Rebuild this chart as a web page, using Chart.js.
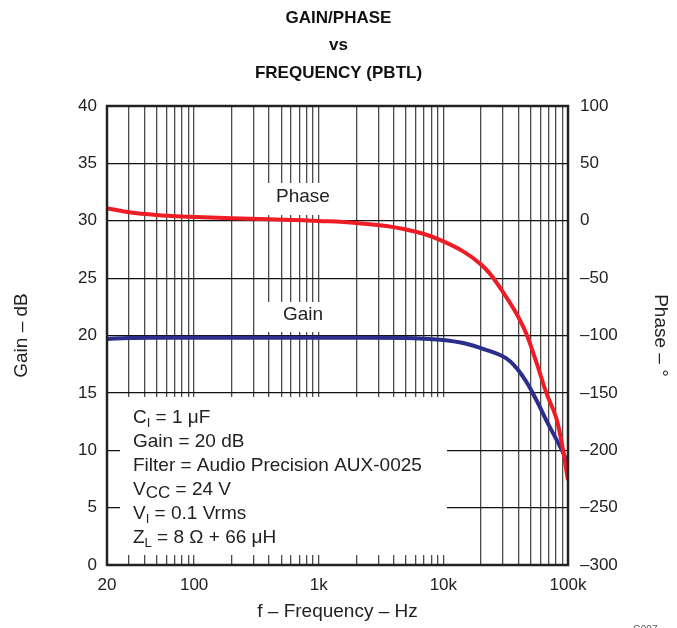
<!DOCTYPE html>
<html>
<head>
<meta charset="utf-8">
<script src="https://cdn.jsdelivr.net/npm/chart.js@4.4.1/dist/chart.umd.min.js"></script>
<style>
  html, body { margin: 0; padding: 0; background: #fff; }
  #wrap { width: 677px; height: 628px; }
</style>
</head>
<body>
<div id="wrap"><canvas id="gainPhase" width="677" height="628"></canvas></div>
<script>
// values
const gainFreq = [20, 30, 50, 100, 200, 500, 1000, 2000, 5000, 7000, 10000, 15000, 20000, 32000, 43600, 55600, 67000, 81000, 97000, 100000];
const gainDb   = [19.7, 19.78, 19.8, 19.8, 19.8, 19.8, 19.8, 19.8, 19.78, 19.72, 19.6, 19.3, 18.9, 18.0, 16.4, 14.4, 12.6, 10.9, 9.15, 8.5];

const phaseFreq = [20, 30, 50, 90, 200, 400, 1000, 2000, 4700, 10000, 20000, 30000, 43600, 55600, 67000, 80000, 88500, 100000];
const phaseDeg  = [10.9, 7.4, 5, 3.5, 2.1, 1.2, -0.2, -2, -7, -18, -38, -62, -92, -123, -150, -171, -192, -226];

const gainTicks = [0, 5, 10, 15, 20, 25, 30, 35, 40];
const phaseTicks = [-300, -250, -200, -150, -100, -50, 0, 50, 100];
const freqGrid = [20, 30, 40, 50, 60, 70, 80, 90,
                  100, 200, 300, 400, 500, 600, 700, 800, 900,
                  1000, 2000, 3000, 4000, 5000, 6000, 7000, 8000, 9000,
                  10000, 20000, 30000, 40000, 50000, 60000, 70000, 80000, 90000, 100000];
const freqLabels = { 20: '20', 100: '100', 1000: '1k', 10000: '10k', 100000: '100k' };

const FONT = '"Liberation Sans", Arial, sans-serif';
const TXT = '#222';

// white boxes behind the in-plot labels, then the labels themselves
const labelsPlugin = {
    id: 'labels',
    beforeDatasetsDraw(chart) {
        const ctx = chart.ctx;
        ctx.save();
        ctx.fillStyle = '#fff';
        ctx.fillRect(262, 183, 74, 32);
        ctx.fillRect(262, 302, 74, 30);
        ctx.fillRect(120, 397, 327, 158);

        ctx.fillStyle = TXT;
        ctx.font = '19px ' + FONT;
        ctx.textAlign = 'center';
        ctx.textBaseline = 'middle';
        ctx.fillText('Phase', 303, 197);
        ctx.fillText('Gain', 303, 315);

        ctx.textAlign = 'left';
        ctx.textBaseline = 'alphabetic';
        const notes = [
            [['C', 0], ['I', 1], [' = 1 μF', 0]],
            [['Gain = 20 dB', 0]],
            [['Filter = Audio Precision AUX-0025', 0]],
            [['V', 0], ['CC', 2], [' = 24 V', 0]],
            [['V', 0], ['I', 1], [' = 0.1 Vrms', 0]],
            [['Z', 0], ['L', 1], [' = 8 Ω + 66 μH', 0]]
        ];
        notes.forEach((parts, i) => {
            let x = 133;
            const y = 423 + i * 24;
            parts.forEach(([t, sub]) => {
                if (sub === 1) { ctx.font = '13px ' + FONT; ctx.fillText(t, x, y + 4); }
                else if (sub === 2) { ctx.font = '17px ' + FONT; ctx.fillText(t, x, y + 3); }
                else { ctx.font = '19px ' + FONT; ctx.fillText(t, x, y); }
                x += ctx.measureText(t).width;
            });
        });
        ctx.restore();
    },
    afterDatasetsDraw(chart) {
        const { ctx, chartArea: a } = chart;
        ctx.save();
        ctx.strokeStyle = '#222';
        ctx.lineWidth = 2.5;
        ctx.strokeRect(a.left, a.top, a.right - a.left, a.bottom - a.top);
        ctx.fillStyle = '#555';
        ctx.font = '10px ' + FONT;
        ctx.fillText('G007', 633, 633);
        ctx.restore();
    }
};

new Chart(document.getElementById('gainPhase'), {
    type: 'line',
    data: {
        datasets: [{
            label: 'Phase',
            data: phaseFreq.map((f, i) => ({ x: f, y: phaseDeg[i] })),
            yAxisID: 'y2',
            borderColor: '#ee1c25',
            borderWidth: 4,
            pointRadius: 0,
            tension: 0.4
        }, {
            label: 'Gain',
            data: gainFreq.map((f, i) => ({ x: f, y: gainDb[i] })),
            yAxisID: 'y',
            borderColor: '#2b2e8a',
            borderWidth: 4,
            pointRadius: 0,
            tension: 0.4
        }]
    },
    options: {
        responsive: false,
        animation: false,
        layout: { padding: 0 },
        plugins: {
            legend: { display: false },
            tooltip: { enabled: false },
            title: {
                display: true,
                text: ['GAIN/PHASE', 'vs', 'FREQUENCY (PBTL)'],
                color: '#111',
                font: { family: FONT, size: 17, weight: 'bold', lineHeight: 1.6 },
                padding: { top: 5, bottom: 19.4 }
            }
        },
        scales: {
            x: {
                type: 'logarithmic',
                min: 20,
                max: 100000,
                afterBuildTicks: (s) => { s.ticks = freqGrid.map(v => ({ value: v })); },
                afterFit: (s) => { s.height = 63; },
                ticks: {
                    autoSkip: false,
                    maxRotation: 0,
                    padding: 10,
                    color: TXT,
                    font: { family: FONT, size: 17 },
                    callback: (v) => freqLabels[v] || ''
                },
                grid: { color: '#4a4a4a', lineWidth: 1.3, drawTicks: false },
                border: { display: false },
                title: {
                    display: true,
                    text: 'f – Frequency – Hz',
                    color: TXT,
                    font: { family: FONT, size: 19 },
                    padding: { top: 0, bottom: 4.6 }
                }
            },
            y: {
                position: 'left',
                min: 0,
                max: 40,
                afterBuildTicks: (s) => { s.ticks = gainTicks.map(v => ({ value: v })); },
                afterFit: (s) => { s.width = 107; },
                ticks: {
                    padding: 10,
                    color: TXT,
                    font: { family: FONT, size: 17 }
                },
                grid: { color: '#111', lineWidth: 1.2, drawTicks: false },
                border: { display: false },
                title: {
                    display: true,
                    text: 'Gain – dB',
                    color: TXT,
                    font: { family: FONT, size: 19 },
                    padding: { top: 10.6, bottom: 0 }
                }
            },
            y2: {
                position: 'right',
                min: -300,
                max: 100,
                afterBuildTicks: (s) => { s.ticks = phaseTicks.map(v => ({ value: v })); },
                afterFit: (s) => { s.width = 109; },
                ticks: {
                    padding: 12,
                    color: TXT,
                    font: { family: FONT, size: 17 },
                    callback: (v) => String(v).replace('-', '–')
                },
                grid: { display: false, drawTicks: false },
                border: { display: false },
                title: {
                    display: true,
                    text: 'Phase – °',
                    color: TXT,
                    font: { family: FONT, size: 19 },
                    padding: { top: 5.6, bottom: 0 }
                }
            }
        }
    },
    plugins: [labelsPlugin]
});
</script>
</body>
</html>
